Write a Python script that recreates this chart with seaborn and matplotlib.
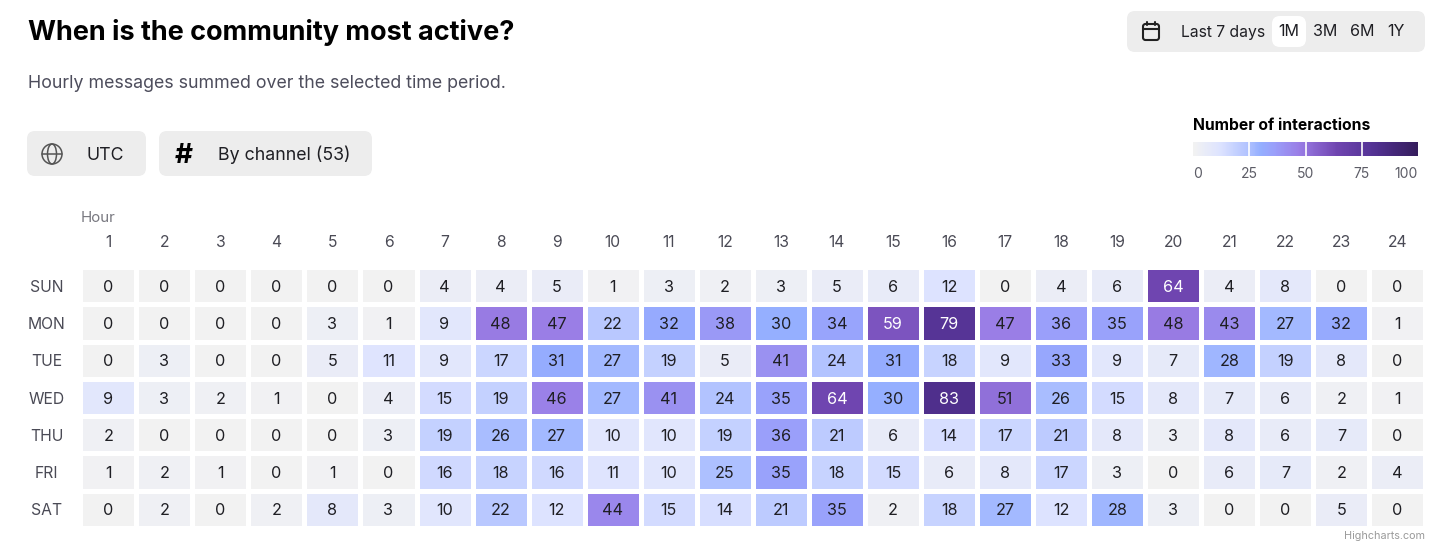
import matplotlib
matplotlib.use('Agg')
import matplotlib.pyplot as plt
from matplotlib.colors import LinearSegmentedColormap
from matplotlib.patches import FancyBboxPatch, Circle, Ellipse
import numpy as np
import pandas as pd
import seaborn as sns

days = ['SUN', 'MON', 'TUE', 'WED', 'THU', 'FRI', 'SAT']
hours = list(range(1, 25))
sun = [0, 0, 0, 0, 0, 0, 4, 4, 5, 1, 3, 2, 3, 5, 6, 12, 0, 4, 6, 64, 4, 8, 0, 0]
mon = [0, 0, 0, 0, 3, 1, 9, 48, 47, 22, 32, 38, 30, 34, 59, 79, 47, 36, 35, 48, 43, 27, 32, 1]
tue = [0, 3, 0, 0, 5, 11, 9, 17, 31, 27, 19, 5, 41, 24, 31, 18, 9, 33, 9, 7, 28, 19, 8, 0]
wed = [9, 3, 2, 1, 0, 4, 15, 19, 46, 27, 41, 24, 35, 64, 30, 83, 51, 26, 15, 8, 7, 6, 2, 1]
thu = [2, 0, 0, 0, 0, 3, 19, 26, 27, 10, 10, 19, 36, 21, 6, 14, 17, 21, 8, 3, 8, 6, 7, 0]
fri = [1, 2, 1, 0, 1, 0, 16, 18, 16, 11, 10, 25, 35, 18, 15, 6, 8, 17, 3, 0, 6, 7, 2, 4]
sat = [0, 2, 0, 2, 8, 3, 10, 22, 12, 44, 15, 14, 21, 35, 2, 18, 27, 12, 28, 3, 0, 0, 5, 0]
legend_ticks = [0, 25, 50, 75, 100]

W, H = 1448, 555
DARK = '#1f1f24'
GREY = '#5c5c66'

sns.set_theme(style='white')
plt.rcParams['font.family'] = ['Inter', 'DejaVu Sans']


def px_axes(fig, x0, y0, x1, y1):
    return fig.add_axes([x0 / W, 1 - y1 / H, (x1 - x0) / W, (y1 - y0) / H])


def button(ax, x0, y0, x1, y1, color='#ededed', r=8):
    ax.add_patch(FancyBboxPatch((x0 + r, y0 + r), x1 - x0 - 2 * r, y1 - y0 - 2 * r,
                                boxstyle=f'round,pad={r},rounding_size={r}',
                                fc=color, ec='none'))


cmap = LinearSegmentedColormap.from_list('interactions', [
    (0.00, '#f2f2f2'), (0.12, '#dde3ff'), (0.25, '#aec0ff'), (0.30, '#94aeff'),
    (0.36, '#9a9ffa'), (0.47, '#9a7ee6'), (0.59, '#7d55c0'), (0.64, '#6f45b0'),
    (0.79, '#563497'), (0.83, '#4f2f8c'), (1.00, '#351d5c')])

df = pd.DataFrame([sun, mon, tue, wed, thu, fri, sat], index=days, columns=hours)

fig = plt.figure(figsize=(W / 100, H / 100), dpi=100, facecolor='white')

# page furniture in pixel coordinates
bg = fig.add_axes([0, 0, 1, 1])
bg.set_xlim(0, W)
bg.set_ylim(H, 0)
bg.axis('off')

bg.text(28, 33, 'When is the community most active?', fontsize=19.45, fontweight='bold',
        color='black', va='center')
bg.text(28, 83, 'Hourly messages summed over the selected time period.', fontsize=12.8,
        color='#4d4d5c', va='center')

button(bg, 1127, 11, 1425, 52)
button(bg, 1272, 16, 1306, 47, color='white')
bg.add_patch(FancyBboxPatch((1145, 26), 12, 12, boxstyle='round,pad=2,rounding_size=2.5',
                            fc='none', ec='#222222', lw=1.5))
bg.plot([1143, 1159], [29, 29], color='#222222', lw=1.5)
bg.plot([1147, 1147], [22, 25], color='#222222', lw=1.5)
bg.plot([1155, 1155], [22, 25], color='#222222', lw=1.5)
bg.text(1181, 32, 'Last 7 days', fontsize=11.3, color=DARK, va='center')
for label, cx in zip(['1M', '3M', '6M', '1Y'], [1289, 1325, 1362, 1396]):
    bg.text(cx, 32, label, fontsize=11.6, color=DARK, va='center', ha='center')

button(bg, 27, 131, 146, 176)
bg.add_patch(Circle((52, 154), 10, fc='none', ec='#555555', lw=1.1))
bg.add_patch(Ellipse((52, 154), 9, 20, fc='none', ec='#555555', lw=1.1))
bg.plot([42, 62], [154, 154], color='#555555', lw=1.1)
bg.text(86, 155, 'UTC', fontsize=12.8, color=DARK, va='center')
button(bg, 159, 131, 372, 176)
bg.text(184, 156, '#', fontsize=20, fontweight='bold', color='black', va='center', ha='center')
bg.text(218, 155, 'By channel (53)', fontsize=12.8, color=DARK, va='center')

bg.text(81, 218, 'Hour', fontsize=10.8, color='#77777f', va='center')
bg.text(1193, 126, 'Number of interactions', fontsize=11.3, fontweight='bold',
        color='black', va='center')
bg.text(1425, 536, 'Highcharts.com', fontsize=7.8, color='#9a9a9a', va='center', ha='right')

# heatmap
ax = px_axes(fig, 80.2, 267, 1425.5, 528)
cax = px_axes(fig, 1193, 142, 1418, 156)
sns.heatmap(df, ax=ax, cmap=cmap, vmin=0, vmax=100, linewidths=2.2, linecolor='white',
            annot=True, fmt='d', annot_kws={'fontsize': 11.7, 'va': 'center_baseline'},
            square=False, cbar_ax=cax, cbar_kws={'orientation': 'horizontal'})

vals = df.to_numpy().ravel()
for txt, v in zip(ax.texts, vals):
    txt.set_color('white' if v >= 55 else DARK)

ax.xaxis.tick_top()
ax.tick_params(axis='both', length=0)
ax.set_xlabel('')
ax.set_ylabel('')
ax.set_xticklabels(hours, rotation=0, fontsize=11.3, color='#4a4a55')
ax.tick_params(axis='x', pad=12)
ax.set_yticklabels(days, rotation=0, fontsize=11.3, color='#4a4a55', ha='center',
                   va='center_baseline')
ax.tick_params(axis='y', pad=24)

# legend bar
cb = ax.collections[0].colorbar
cb.outline.set_visible(False)
cb.set_ticks(legend_ticks)
cb.ax.tick_params(length=0, pad=8, labelsize=10, labelcolor=GREY)
for t in legend_ticks[1:-1]:
    cax.axvline(t, color='white', lw=1.2)
tick_labels = cax.get_xticklabels()
tick_labels[0].set_ha('left')
tick_labels[-1].set_ha('right')

fig.savefig('out.png', dpi=100)
plt.close()
